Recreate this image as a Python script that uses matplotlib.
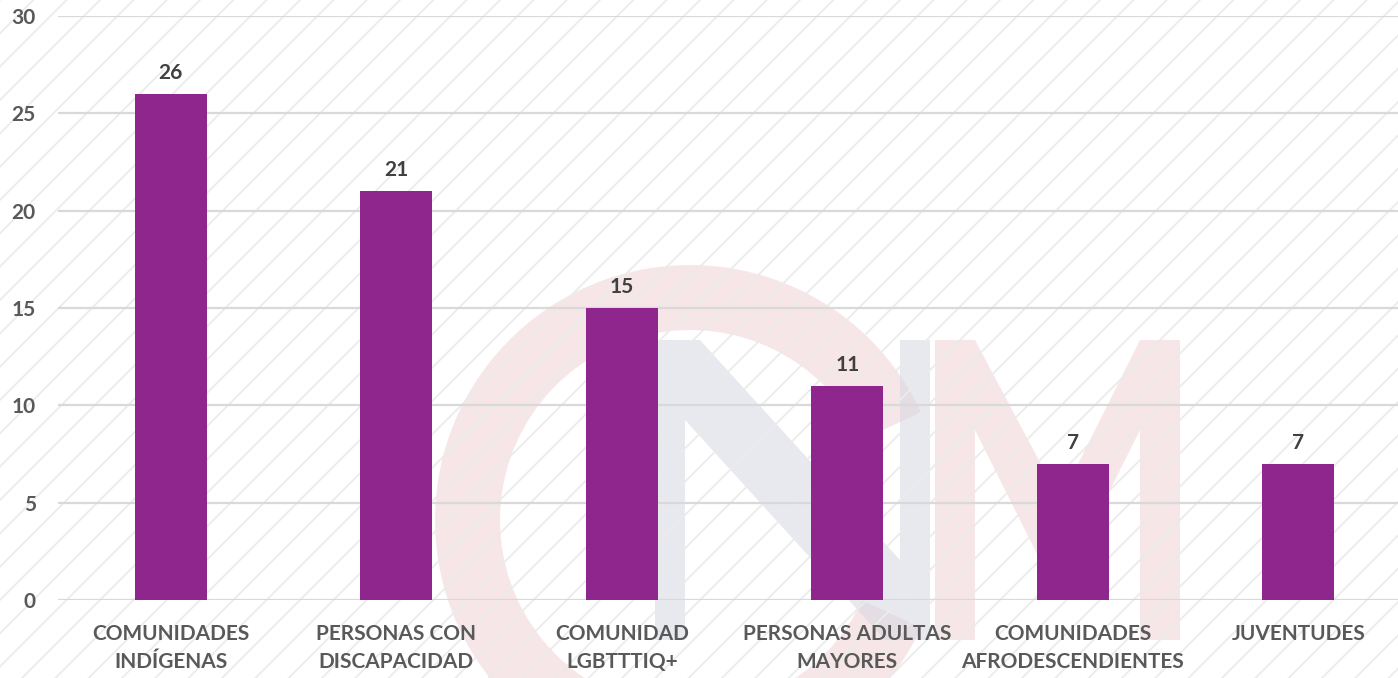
import numpy as np
import matplotlib.pyplot as plt
from matplotlib.patches import Rectangle, Wedge, Polygon

categories = ['COMUNIDADES\nINDÍGENAS', 'PERSONAS CON\nDISCAPACIDAD', 'COMUNIDAD\nLGBTTTIQ+',
              'PERSONAS ADULTAS\nMAYORES', 'COMUNIDADES\nAFRODESCENDIENTES', 'JUVENTUDES']
values = [26, 21, 15, 11, 7, 7]
yticks = [0, 5, 10, 15, 20, 25, 30]

bar_color = '#8E268D'
text_color = '#595959'

plt.rcParams['font.family'] = ['Lato', 'DejaVu Sans']
plt.rcParams['hatch.color'] = '#EBEBEB'
plt.rcParams['hatch.linewidth'] = 1.3

fig = plt.figure(figsize=(13.98, 6.78), dpi=100)

# background: faint watermark + hatch, in pixel coords
bg = fig.add_axes([0, 0, 1, 1], zorder=0)
bg.set_xlim(0, 1398)
bg.set_ylim(678, 0)
bg.axis('off')
wm_alpha = 0.5
bg.add_patch(Wedge((690, 520), 255, 25, 335, width=65, facecolor='#EFCFD1', edgecolor='none', alpha=wm_alpha))
bg.add_patch(Polygon([(655, 340), (700, 340), (900, 560), (900, 340), (930, 340), (930, 640),
                      (885, 640), (685, 420), (685, 640), (655, 640)],
                     facecolor='#D3D5E0', edgecolor='none', alpha=wm_alpha))
bg.add_patch(Polygon([(935, 340), (975, 340), (1060, 500), (1140, 340), (1180, 340), (1180, 640),
                      (1140, 640), (1140, 430), (1065, 580), (1050, 580), (975, 430), (975, 640),
                      (935, 640)], facecolor='#EFCFD1', edgecolor='none', alpha=wm_alpha))
bg.add_patch(Rectangle((0, 0), 1398, 678, facecolor='none', edgecolor='#EBEBEB', hatch='/', linewidth=0))

ax = fig.add_axes([58 / 1398, 78 / 678, 1353 / 1398, 584 / 678], zorder=1)
ax.patch.set_alpha(0)
x = np.arange(len(values))
bars = ax.bar(x, values, width=0.32, color=bar_color, zorder=3)

for xi, v in zip(x, values):
    ax.annotate(str(v), (xi, v), xytext=(0, 8), textcoords='offset points',
                ha='center', va='bottom', fontsize=15, fontweight='bold', color='#404040')

ax.set_xlim(-0.5, 5.5)
ax.set_ylim(0, 30)
ax.set_yticks(yticks)
ax.set_xticks(x)
ax.set_xticklabels(categories, fontsize=15, fontweight='bold', color=text_color, linespacing=1.5)
ax.tick_params(axis='y', labelsize=15, colors=text_color, length=0, pad=16)
ax.tick_params(axis='x', length=0, pad=17)
for lbl in ax.get_yticklabels():
    lbl.set_fontweight('bold')
ax.grid(axis='y', color='#D9D9D9', linewidth=1.6, zorder=0)
for s in ax.spines.values():
    s.set_visible(False)

fig.savefig('out.png', dpi=100)
